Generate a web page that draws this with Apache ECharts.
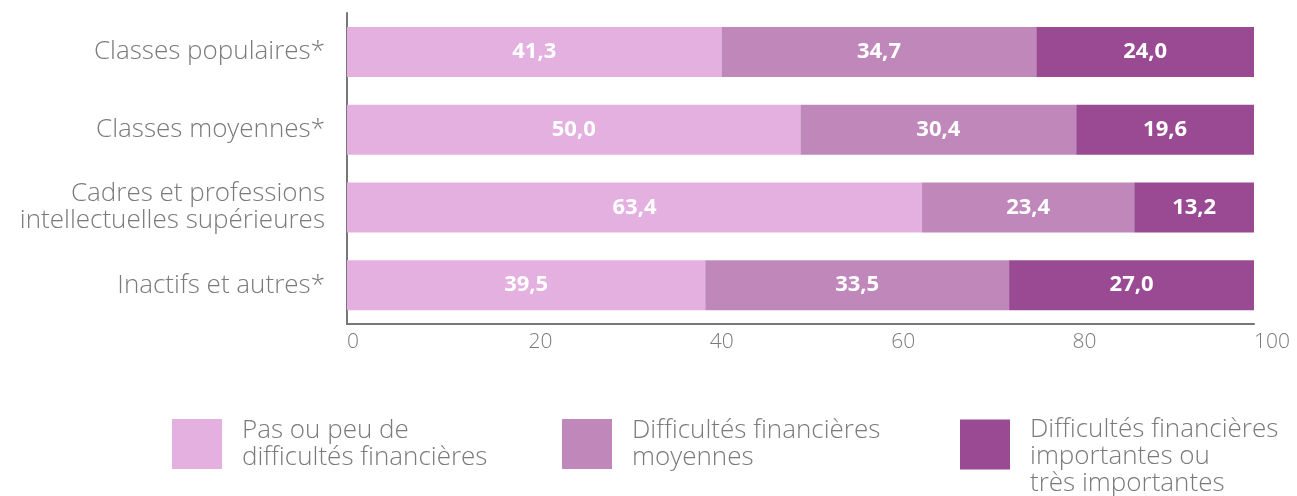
<!DOCTYPE html>
<html>
<head>
<meta charset="utf-8">
<title>ECharts</title>
<style>
  html, body { margin: 0; padding: 0; background: #fff; }
  #chart { width: 1297px; height: 496px; }
</style>
</head>
<body>
<div id="chart"></div>
<script src="https://cdn.jsdelivr.net/npm/echarts@6/dist/echarts.min.js"></script>
<script>
var categories = [
  'Classes populaires*',
  'Classes moyennes*',
  'Cadres et professions\nintellectuelles supérieures',
  'Inactifs et autres*'
];
var seriesNames = [
  'Pas ou peu de\ndifficultés financières',
  'Difficultés financières\nmoyennes',
  'Difficultés financières\nimportantes ou\ntrès importantes'
];
var peuDifficultes = [41.3, 50.0, 63.4, 39.5];
var moyennes = [34.7, 30.4, 23.4, 33.5];
var importantes = [24.0, 19.6, 13.2, 27.0];
var xTicks = [0, 20, 40, 60, 80, 100];

var colors = ['#e4b0df', '#c088ba', '#9a4a93'];
var fontFam = '"Open Sans", "Noto Sans", sans-serif';
var grey = '#7a7a7a';

function fr(v) { return v.toFixed(1).replace('.', ','); }

var values = [peuDifficultes, moyennes, importantes];
var series = values.map(function (arr, i) {
  return {
    name: seriesNames[i],
    type: 'bar',
    stack: 'total',
    barWidth: 50,
    data: arr,
    itemStyle: { color: colors[i] },
    label: {
      show: true,
      position: 'inside',
      color: '#fff',
      fontFamily: fontFam,
      fontWeight: 'bold',
      fontSize: 22,
      formatter: function (p) { return fr(p.value); }
    }
  };
});

// square icon; the tall variant keeps the square at the top of a taller box
function legendAt(name, left, top, tall) {
  return {
    data: [name],
    left: left,
    top: top,
    orient: 'horizontal',
    itemWidth: 50,
    itemHeight: tall ? 74 : 50,
    itemGap: 0,
    icon: tall ? 'path://M0,0L50,0L50,50L0,50Z M0,74' : 'rect',
    selectedMode: false,
    textStyle: {
      color: grey,
      fontFamily: fontFam,
      fontWeight: 300,
      fontSize: 26,
      lineHeight: 27,
      padding: [0, 0, 0, 15]
    }
  };
}

var chart = echarts.init(document.getElementById('chart'));
chart.setOption({
  animation: false,
  grid: { left: 347, right: 43, top: 13, bottom: 172 },
  xAxis: {
    type: 'value',
    min: 0,
    max: 100,
    interval: 20,
    splitLine: { show: false },
    axisTick: { show: false },
    axisLine: { show: true, lineStyle: { color: '#777', width: 2 } },
    axisLabel: {
      color: grey,
      fontFamily: fontFam,
      fontWeight: 300,
      fontSize: 21,
      align: 'left',
      margin: 8,
      formatter: function (v) { return xTicks.indexOf(v) >= 0 ? String(v) : ''; }
    }
  },
  yAxis: {
    type: 'category',
    inverse: true,
    data: categories,
    axisTick: { show: false },
    axisLine: { show: true, lineStyle: { color: '#777', width: 2 } },
    axisLabel: {
      color: grey,
      fontFamily: fontFam,
      fontWeight: 300,
      fontSize: 26,
      lineHeight: 27,
      margin: 22,
      align: 'right'
    }
  },
  legend: [
    legendAt(seriesNames[0], 167, 412, false),
    legendAt(seriesNames[1], 557, 412, false),
    legendAt(seriesNames[2], 955, 411, true)
  ],
  series: series
});
</script>
</body>
</html>
